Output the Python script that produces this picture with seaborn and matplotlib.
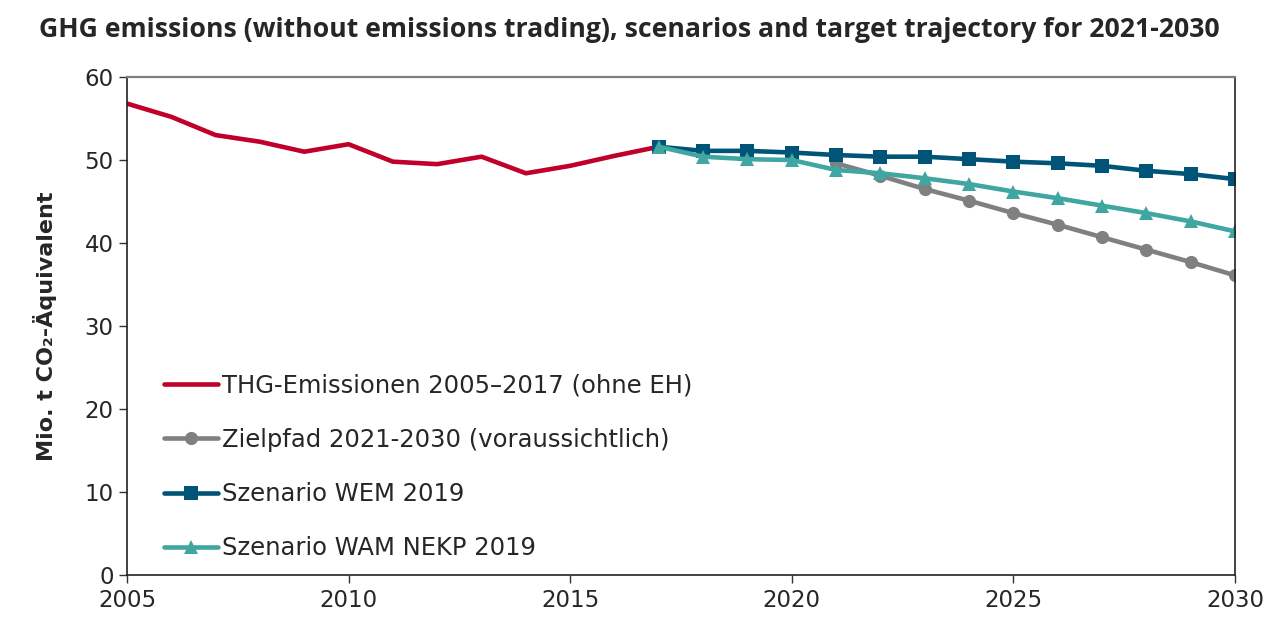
import numpy as np
import pandas as pd
import matplotlib
matplotlib.use("Agg")
import matplotlib.pyplot as plt
import seaborn as sns

# data
years_hist = list(range(2005, 2018))
thg_hist = [56.8, 55.2, 53.0, 52.2, 51.0, 51.9, 49.8, 49.5, 50.4, 48.4, 49.3, 50.5, 51.6]

years_target = list(range(2021, 2031))
zielpfad = [49.6, 48.1, 46.5, 45.1, 43.6, 42.2, 40.7, 39.2, 37.7, 36.1]

years_scen = list(range(2017, 2031))
wem = [51.6, 51.1, 51.1, 50.9, 50.6, 50.4, 50.4, 50.1, 49.8, 49.6, 49.3, 48.7, 48.3, 47.7]
wam = [51.6, 50.4, 50.1, 50.0, 48.8, 48.4, 47.8, 47.1, 46.2, 45.4, 44.5, 43.6, 42.6, 41.4]

labels = ["THG-Emissionen 2005\u20132017 (ohne EH)",
          "Zielpfad 2021-2030 (voraussichtlich)",
          "Szenario WEM 2019",
          "Szenario WAM NEKP 2019"]

sns.set_style("ticks")
plt.rcParams['font.family'] = ['DejaVu Sans']

fig = plt.figure(figsize=(12.66, 6.19), dpi=100)
ax = fig.add_axes([0.1003, 0.0711, 0.8752, 0.8045])

sns.lineplot(x=years_hist, y=thg_hist, ax=ax, color="#C0002A", linewidth=3.3, label=labels[0])
sns.lineplot(x=years_target, y=zielpfad, ax=ax, color="#808080", linewidth=3.3,
             marker="o", markersize=9.5, markeredgewidth=0, label=labels[1])
sns.lineplot(x=years_scen, y=wem, ax=ax, color="#005478", linewidth=3.3,
             marker="s", markersize=9.5, markeredgewidth=0, label=labels[2])
sns.lineplot(x=years_scen, y=wam, ax=ax, color="#40A6A2", linewidth=3.3,
             marker="^", markersize=10, markeredgewidth=0, label=labels[3])

ax.set_xlim(2005, 2030)
ax.set_ylim(0, 60)
ax.set_xticks(range(2005, 2031, 5))
ax.set_yticks(range(0, 61, 10))
ax.tick_params(axis="both", labelsize=16.5, length=6, width=1, direction="out", color="#333333")
ax.tick_params(axis="x", pad=4)
for lbl in ax.get_xticklabels() + ax.get_yticklabels():
    lbl.set_family("DejaVu Sans")

for side in ["left", "bottom", "right"]:
    ax.spines[side].set_color("#222222")
    ax.spines[side].set_linewidth(1.2)
ax.spines["top"].set_color("#7f7f7f")
ax.spines["top"].set_linewidth(1.6)

ax.set_xlabel("")
ax.set_ylabel("Mio. t CO\u2082-\u00c4quivalent", fontsize=16, fontweight="bold", labelpad=20,
              family="DejaVu Sans")

leg = ax.legend(loc="upper left", bbox_to_anchor=(0.033, 0.405), frameon=False,
                prop={"family": "DejaVu Sans", "size": 17.5},
                handlelength=2.25, handletextpad=0.15, labelspacing=1.25,
                borderpad=0, borderaxespad=0)

fig.suptitle("GHG emissions (without emissions trading), scenarios and target trajectory for 2021-2030",
             fontsize=19.2, fontweight="bold", family=["Open Sans", "DejaVu Sans"], x=0.497, y=0.973)

fig.savefig("out.png", dpi=100)
